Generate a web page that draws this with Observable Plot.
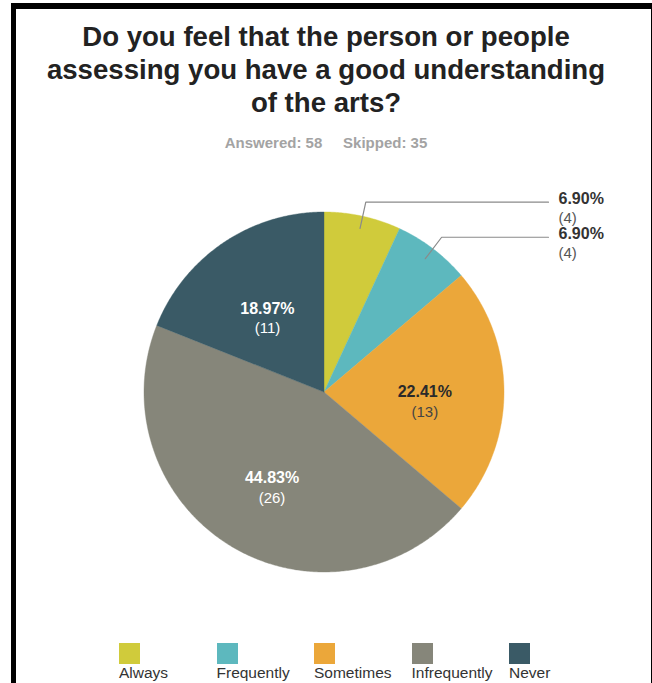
<!DOCTYPE html>
<html>
<head>
<meta charset="utf-8">
<script src="https://cdn.jsdelivr.net/npm/d3@7"></script>
<script src="https://cdn.jsdelivr.net/npm/@observablehq/plot@0.6"></script>
<style>
  html, body { margin: 0; padding: 0; background: #fff; }
  body { width: 652px; height: 683px; position: relative; overflow: hidden; font-family: "Liberation Sans", Arial, Helvetica, sans-serif; }
  #frame { position: absolute; left: 11px; top: 3px; width: 635px; height: 676px; border-left: 5px solid #000; border-top: 6px solid #000; border-right: 5px solid #000; border-bottom: 2px solid #666; }
  #title { position: absolute; left: 0; top: 20px; width: 652px; text-align: center; font-size: 27.6px; font-weight: bold; line-height: 33px; color: #222; }
  #subtitle { position: absolute; left: 0; top: 134px; width: 652px; text-align: center; font-size: 15px; font-weight: bold; color: #a3a3a3; }
  #chart { position: absolute; left: 0; top: 160px; }
  #legend { position: absolute; left: 119px; top: 643px; display: flex; }
  .item { width: 97.5px; }
  .sw { width: 21px; height: 21px; }
  .lab { font-size: 15.5px; color: #333; margin-top: 0px; line-height: 17px; white-space: nowrap; }
</style>
</head>
<body>
<div id="frame"></div>
<div id="title"></div>
<div id="subtitle"></div>
<div id="chart"></div>
<div id="legend"></div>
<script>
// ---- data ----
const titleLines = ["Do you feel that the person or people", "assessing you have a good understanding", "of the arts?"];
const answered = 58;
const skipped = 35;
const categories = ["Always", "Frequently", "Sometimes", "Infrequently", "Never"];
const counts = [4, 4, 13, 26, 11];
const percents = ["6.90%", "6.90%", "22.41%", "44.83%", "18.97%"];
const colors = ["#d0cb3b", "#5db8be", "#eba73a", "#86867a", "#3a5a66"];

// ---- text ----
document.getElementById("title").innerHTML = titleLines.join("<br>");
document.getElementById("subtitle").innerHTML = `Answered: ${answered}&nbsp;&nbsp;&nbsp;&nbsp; Skipped: ${skipped}`;

// ---- geometry (derived from data) ----
const total = d3.sum(counts);
const cx = 323.5, cy = 231.5, R = 180;
const W = 652, H = 480;
const slices = [];
let acc = 0;
categories.forEach((c, i) => {
  const a0 = acc / total * 2 * Math.PI;
  acc += counts[i];
  const a1 = acc / total * 2 * Math.PI;
  slices.push({cat: c, count: counts[i], pct: percents[i], a0, a1, mid: (a0 + a1) / 2, color: colors[i], frac: counts[i] / total});
});

const pts = [];
for (const s of slices) {
  pts.push({cat: s.cat, x: 0, y: 0});
  const n = Math.max(2, Math.ceil((s.a1 - s.a0) / (Math.PI / 360)));
  for (let k = 0; k <= n; k++) {
    const a = s.a0 + (s.a1 - s.a0) * k / n;
    pts.push({cat: s.cat, x: Math.sin(a), y: Math.cos(a)});
  }
  pts.push({cat: s.cat, x: 0, y: 0});
}

const inside = slices.filter(s => s.frac >= 0.1);
const outside = slices.filter(s => s.frac < 0.1);
const fIn = 0.56;
inside.forEach(s => {
  s.lx = fIn * Math.sin(s.mid);
  s.ly = fIn * Math.cos(s.mid);
  s.txt = d3.lab(s.color).l < 62 ? "#ffffff" : "#2a2a2a";
  s.txt2 = d3.lab(s.color).l < 62 ? "#ffffff" : "#444444";
});
const xEnd = (548 - cx) / R;
const xLab = (558 - cx) / R;
const leaders = [];
outside.forEach(s => {
  const p0 = {cat: s.cat, x: 0.93 * Math.sin(s.mid), y: 0.93 * Math.cos(s.mid)};
  const p1 = {cat: s.cat, x: 1.08 * Math.sin(s.mid), y: 1.08 * Math.cos(s.mid)};
  const p2 = {cat: s.cat, x: xEnd, y: p1.y};
  leaders.push(p0, p1, p2);
  s.ox = xLab;
  s.oy = p1.y;
});

const font = "Liberation Sans, Arial, Helvetica, sans-serif";
const chart = Plot.plot({
  width: W, height: H, margin: 0,
  style: {background: "transparent", fontFamily: font, overflow: "visible"},
  x: {domain: [-1, 1], range: [cx - R, cx + R], axis: null},
  y: {domain: [-1, 1], range: [cy + R, cy - R], axis: null},
  color: {domain: categories, range: colors},
  marks: [
    Plot.line(pts, {x: "x", y: "y", z: "cat", fill: "cat", stroke: "cat", strokeWidth: 0.4, curve: "linear"}),
    Plot.line(leaders, {x: "x", y: "y", z: "cat", stroke: "#8a8a8a", strokeWidth: 1.2}),
    Plot.text(inside, {x: "lx", y: "ly", text: "pct", fill: d => d.txt, fontSize: 16, fontWeight: "bold", dy: 0}),
    Plot.text(inside, {x: "lx", y: "ly", text: d => `(${d.count})`, fill: d => d.txt2, fontSize: 15, dy: 20}),
    Plot.text(outside, {x: "ox", y: "oy", text: "pct", fill: "#333", fontSize: 16, fontWeight: "bold", textAnchor: "start", dy: -3}),
    Plot.text(outside, {x: "ox", y: "oy", text: d => `(${d.count})`, fill: "#555", fontSize: 15, textAnchor: "start", dy: 16})
  ]
});
document.getElementById("chart").appendChild(chart);

// ---- legend ----
const leg = d3.select("#legend");
categories.forEach((c, i) => {
  const it = leg.append("div").attr("class", "item");
  it.append("div").attr("class", "sw").style("background", colors[i]);
  it.append("div").attr("class", "lab").text(c);
});
</script>
</body>
</html>
